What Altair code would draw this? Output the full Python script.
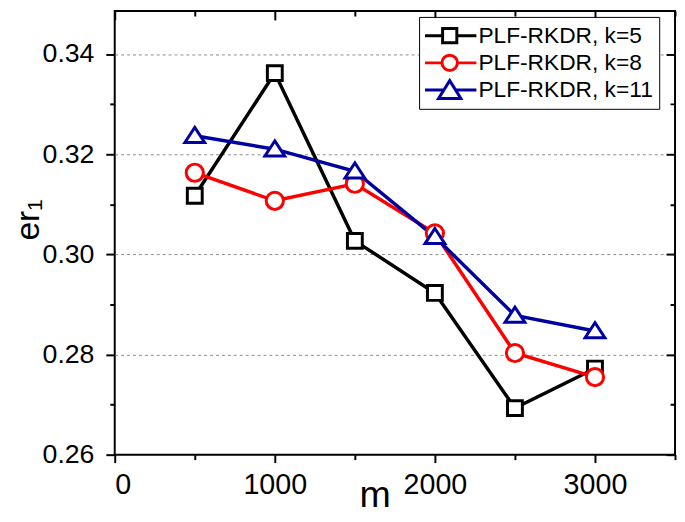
import altair as alt
import pandas as pd

# ---------------- data ----------------
m_values = [500, 1000, 1500, 2000, 2500, 3000]
series_names = ["PLF-RKDR, k=5", "PLF-RKDR, k=8", "PLF-RKDR, k=11"]
er_k5 = [0.3117, 0.3362, 0.3027, 0.2923, 0.2693, 0.2772]
er_k8 = [0.3163, 0.3107, 0.3141, 0.3042, 0.2803, 0.2755]
er_k11 = [0.3237, 0.3210, 0.3166, 0.3035, 0.2878, 0.2847]
series_colors = ["#000000", "#FF0000", "#0000A0"]

x_ticks = [0, 500, 1000, 1500, 2000, 2500, 3000, 3500]
y_ticks = [0.26, 0.27, 0.28, 0.29, 0.30, 0.31, 0.32, 0.33, 0.34]

FONT = "Liberation Sans"

rows = []
for name, vals in zip(series_names, [er_k5, er_k8, er_k11]):
    for mv, v in zip(m_values, vals):
        rows.append({"series": name, "m": mv, "er": v})
df = pd.DataFrame(rows)


def circle_path(cx, r):
    k = 0.5523 * r
    f = lambda v: f"{v:.3f}"
    return (
        f"M{f(cx + r)},0"
        f"C{f(cx + r)},{f(k)} {f(cx + k)},{f(r)} {f(cx)},{f(r)}"
        f"C{f(cx - k)},{f(r)} {f(cx - r)},{f(k)} {f(cx - r)},0"
        f"C{f(cx - r)},{f(-k)} {f(cx - k)},{f(-r)} {f(cx)},{f(-r)}"
        f"C{f(cx + k)},{f(-r)} {f(cx + r)},{f(-k)} {f(cx + r)},0Z"
    )


# marker shapes (unit paths)
marker_paths = [
    "M-0.94,-0.94H0.94V0.94H-0.94Z",
    circle_path(0, 1.09),
    "M0,-1.05L1.25,0.85H-1.25Z",
]
# legend symbols: line + marker (marker centred at x=1.35)
legend_paths = [
    "M-1.35,0H0.63M2.07,0H4.05M0.63,-0.72H2.07V0.72H0.63Z",
    "M-1.35,0H0.57M2.13,0H4.05" + circle_path(1.35, 0.78),
    "M-1.35,0H0.73M1.97,0H4.05M1.35,-0.95L2.48,0.85H0.22Z",
]

x_scale = alt.Scale(domain=[0, 3500], nice=False, zero=False)
y_scale = alt.Scale(domain=[0.26, 0.3486], nice=False, zero=False)
stroke_scale = alt.Scale(domain=series_names, range=series_colors)
shape_scale = alt.Scale(domain=series_names, range=marker_paths)
legend_shape_scale = alt.Scale(domain=series_names, range=legend_paths)

major_x = "datum.value % 1000 === 0"
major_y = "round(datum.value * 100) % 2 === 0"

legend = alt.Legend(
    title=None,
    orient="none",
    legendX=308,
    legendY=6,
    direction="vertical",
    strokeColor="black",
    fillColor="white",
    padding=6,
    cornerRadius=0,
    symbolSize=400,
    symbolStrokeWidth=3,
    symbolFillColor="white",
    symbolOpacity=1,
    labelFont=FONT,
    labelFontSize=23,
    labelColor="black",
    labelOffset=31,
    labelLimit=0,
    rowPadding=1.5,
    clipHeight=26,
    gridAlign="all",
)

x_bottom = alt.Axis(
    orient="bottom",
    values=x_ticks,
    format="d",
    labelExpr=f"{major_x} ? datum.label : ''",
    title="m",
    domain=False,
    grid=False,
    tickColor="black",
    tickWidth=2,
    tickSize={"condition": {"test": major_x, "value": 8}, "value": 5},
    labelFont=FONT,
    labelFontSize=29,
    labelColor="black",
    labelPadding=8,
    titleFont=FONT,
    titleFontSize=38,
    titleFontWeight="normal",
    titleColor="black",
    titleX=263,
    titleY=52,
    titleBaseline="alphabetic",
)
y_left = alt.Axis(
    orient="left",
    values=y_ticks,
    format=".2f",
    labelExpr=f"{major_y} ? datum.label : ''",
    title="er\u2081",
    domain=False,
    grid=True,
    gridColor="#8c8c8c",
    gridDash=[3, 3],
    gridWidth=1,
    gridOpacity={
        "condition": {"test": f"{major_y} && datum.value > 0.265", "value": 1},
        "value": 0,
    },
    tickColor="black",
    tickWidth=2,
    tickSize={"condition": {"test": major_y, "value": 9}, "value": 5},
    labelFont=FONT,
    labelFontSize=27,
    labelColor="black",
    labelPadding=12,
    titleFont=FONT,
    titleFontSize=34,
    titleFontWeight="normal",
    titleColor="black",
    titleAngle=270,
    titleX=-77,
    titleY=211,
    titleAlign="center",
    titleBaseline="alphabetic",
)
x_top = alt.Axis(
    orient="top",
    values=x_ticks,
    labels=False,
    title=None,
    domain=False,
    grid=False,
    offset=-9,
    tickColor="black",
    tickWidth=2,
    tickSize=9,
    tickDash={"condition": {"test": major_x, "value": [9, 0]}, "value": [0, 4, 5, 0]},
)
y_right = alt.Axis(
    orient="right",
    values=y_ticks,
    labels=False,
    title=None,
    domain=False,
    grid=False,
    offset=-9,
    tickColor="black",
    tickWidth=2,
    tickSize=9,
    tickDash={"condition": {"test": major_y, "value": [9, 0]}, "value": [0, 4, 5, 0]},
)

lines = alt.Chart(df).mark_line(strokeWidth=3.5).encode(
    x=alt.X("m:Q", scale=x_scale, axis=x_bottom),
    y=alt.Y("er:Q", scale=y_scale, axis=y_left),
    stroke=alt.Stroke("series:N", scale=stroke_scale, legend=None),
    detail="series:N",
)

points = alt.Chart(df).mark_point(
    filled=True, fill="white", opacity=1, strokeWidth=3, size=256
).encode(
    x=alt.X("m:Q", scale=x_scale, axis=x_top),
    y=alt.Y("er:Q", scale=y_scale, axis=y_right),
    stroke=alt.Stroke("series:N", scale=stroke_scale, legend=None),
    shape=alt.Shape("series:N", scale=shape_scale, legend=None),
)

legend_layer = (
    alt.Chart(df)
    .transform_filter("false")
    .mark_point(filled=True, fill="white", opacity=1, strokeWidth=3, size=400)
    .encode(
        x=alt.X("m:Q", scale=x_scale, axis=None),
        y=alt.Y("er:Q", scale=y_scale, axis=None),
        stroke=alt.Stroke("series:N", scale=stroke_scale, legend=legend),
        shape=alt.Shape("series:N", scale=legend_shape_scale, legend=legend),
    )
)

chart = (
    alt.layer(lines, points, legend_layer)
    .resolve_axis(x="independent", y="independent")
    .resolve_scale(shape="independent", stroke="independent")
    .resolve_legend(shape="independent", stroke="independent")
    .properties(
        width=567,
        height=449,
        autosize=alt.AutoSizeParams(type="none"),
        padding={"left": 108, "top": 0, "right": 2, "bottom": 57},
        background="white",
    )
    .configure_view(stroke="black", strokeWidth=2)
)

chart.save("out.html", embed_options={"renderer": "svg", "actions": False})
